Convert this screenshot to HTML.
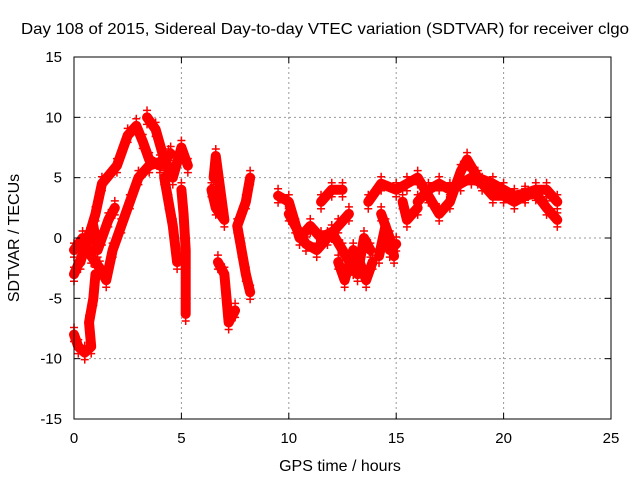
<!DOCTYPE html>
<html><head><meta charset="utf-8"><style>
body{margin:0;background:#fff}
svg{display:block;font-family:"Liberation Sans",sans-serif}
</style></head><body>
<svg id="c" width="640" height="480">
<text x="325" y="34" text-anchor="middle" font-size="16" textLength="608" lengthAdjust="spacingAndGlyphs">Day 108 of 2015, Sidereal Day-to-day VTEC variation (SDTVAR) for receiver clgo</text>
<text x="340" y="471" text-anchor="middle" font-size="16">GPS time / hours</text>
<text transform="translate(19,238) rotate(-90)" text-anchor="middle" font-size="16">SDTVAR / TECUs</text>
<g id="grid"></g><g id="marks"></g>
<rect x="74" y="57" width="537" height="362" fill="none" stroke="#000"/>
<g id="ticks"></g>
</svg>
<script>
const xTicks=[0,5,10,15,20,25];
const yTicks=[-15,-10,-5,0,5,10,15];
const trackA=[[0,-3],[0.5,-1],[1,2],[1.3,4.5],[2,6],[2.5,8.5],[2.9,9.3],[3.2,8],[3.5,6.5],[4,6],[4.5,7]];
const trackB=[[0,-1],[0.4,0],[0.8,-1.5],[1.2,-2.5],[1.5,-3.5],[1.8,-1],[2.2,1],[2.6,3],[3,5],[3.5,6],[4,6.3],[4.4,6.8]];
const trackC=[[3.4,10],[3.8,9],[4.2,6.5],[4.6,5],[5,7.5],[5.3,6]];
const trackD=[[4.2,5],[4.4,3],[4.6,1],[4.8,-2]];
const trackE=[[5,4],[5.1,2],[5.2,-1],[5.2,-4],[5.2,-6.3]];
const trackF=[[0,-8],[0.2,-9],[0.5,-9.5],[0.8,-9],[0.7,-7],[0.9,-5],[1,-3]];
const trackG=[[6.4,4],[6.6,2.5],[7,1.5],[6.6,6.8],[6.5,5]];
const trackH=[[6.7,-2],[7,-3],[7.1,-5],[7.2,-7],[7.5,-6]];
const trackJ=[[8.2,5],[8,3],[7.6,1],[7.8,-1],[8,-3],[8.2,-4.5]];
const trackK=[[9.5,3.5],[10,3],[10.5,0],[11,1],[11.5,0],[12,0.5],[12.5,-1],[13,-2.5],[13.2,-3],[13.5,0],[13.8,-1]];
const trackL=[[11.5,3],[12,4],[12.5,4]];
const trackM=[[13.7,3],[14.3,4.5],[15,4],[15.5,4.5],[16,5],[16.5,3.5],[17,2],[17.5,3],[18,5.5],[18.3,6.5],[18.8,5],[19.5,4.5],[20,4],[20.5,3.5],[21,3.7],[21.5,4],[22,4],[22.5,3]];
const trackN=[[14.2,-1.5],[14.5,1],[14.7,-1],[15,-0.5]];
const trackO=[[16,3],[16.5,4],[17,4.5],[17.5,4],[18,4.5],[18.5,5],[19,4.5],[19.5,3.5],[20,3.5],[20.5,3],[21,3.5],[21.5,3.7],[22,2.5],[22.5,1.5]];
const trackP=[[15.3,3],[15.5,1.5],[16,2.5]];
const trackQ=[[10,2],[10.3,1],[10.8,-0.5],[11.3,-1],[11.8,0],[12.3,1],[12.8,2]];
const trackR=[[12.3,-2],[12.6,-3.5],[13,-1],[13.3,-2],[13.6,-3.5],[13.9,-2]];
const trackS=[[14.3,2],[14.7,0],[14.9,-1.5]];
const trackT=[[0.3,-2],[0.6,0],[0.9,1],[1.1,-1],[1.3,0],[1.6,1.5],[1.9,2.5]];
const tracks=[trackA,trackB,trackC,trackD,trackE,trackF,trackG,trackH,trackJ,trackK,trackL,trackM,trackN,trackO,trackP,trackQ,trackR,trackS,trackT];
const X=t=>74+t*537/25, Y=v=>238-v*362/30;
const NS='http://www.w3.org/2000/svg';
const grid=document.getElementById('grid'),ticks=document.getElementById('ticks'),marks=document.getElementById('marks');
function mk(tag,a,p){const e=document.createElementNS(NS,tag);for(const k in a)e.setAttribute(k,a[k]);p.appendChild(e);return e;}
xTicks.forEach(t=>{
 if(t>0&&t<25){const g=mk('line',{x1:X(t),x2:X(t),y1:57,y2:419,stroke:'#999','stroke-dasharray':'2,3'},grid);
 
 }
 mk('line',{x1:X(t),x2:X(t),y1:419,y2:413,stroke:'#000'},ticks);mk('line',{x1:X(t),x2:X(t),y1:57,y2:63,stroke:'#000'},ticks);
 const l=mk('text',{x:X(t),y:443,'text-anchor':'middle','font-size':15},ticks);l.textContent=t;
 
 
});
yTicks.forEach(v=>{
 if(v>-15&&v<15){const g=mk('line',{x1:74,x2:611,y1:Y(v),y2:Y(v),stroke:'#999','stroke-dasharray':'2,3'},grid);
 
 }
 mk('line',{x1:74,x2:80,y1:Y(v),y2:Y(v),stroke:'#000'},ticks);mk('line',{x1:605,x2:611,y1:Y(v),y2:Y(v),stroke:'#000'},ticks);
 const l=mk('text',{x:62,y:Y(v)+5,'text-anchor':'end','font-size':15},ticks);l.textContent=v;
 
 
});
tracks.forEach(tr=>{
 const pl=mk('polyline',{points:tr.map(p=>X(p[0])+','+Y(p[1])).join(' '),fill:'none',stroke:'#f00','stroke-width':10,'stroke-linejoin':'round','stroke-linecap':'round'},marks);
 
 
 tr.forEach(p=>{const x=X(p[0]),y=Y(p[1]);
  const m=mk('path',{d:`M${x-4},${y+7}h8M${x},${y+3}v8M${x-4},${y-7}h8M${x},${y-11}v8`,stroke:'#f00','stroke-width':1.5},marks);
  
  });
});
</script>
</body></html>
